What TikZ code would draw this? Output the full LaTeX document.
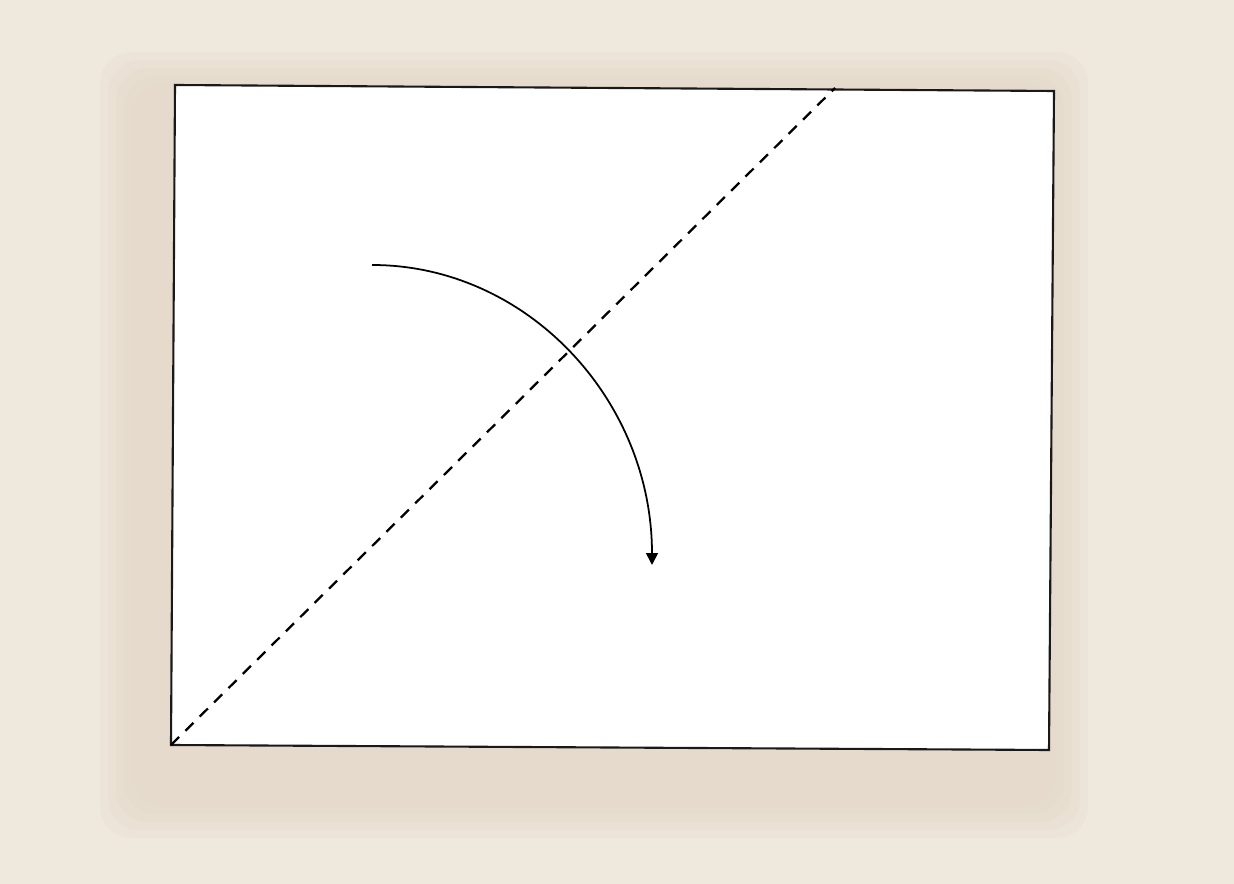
\documentclass[tikz,border=0pt]{standalone}
\usepackage{tikz}
\usetikzlibrary{arrows.meta, calc}
\definecolor{PaperBG}{RGB}{239,232,221}
\definecolor{ShadowBG}{RGB}{226,214,196}
\definecolor{FrameInk}{RGB}{25,25,25}

\begin{document}
\begin{tikzpicture}[
  x=0.02cm, y=-0.02cm,
  frame/.style={draw=FrameInk, line width=1.2pt, fill=white, line join=miter},
  diag/.style={draw=black, line width=1.3pt, dash pattern=on 6.5pt off 5pt},
  turn/.style={draw=black, line width=1pt, -{Triangle[length=2.4mm, width=2.4mm]}},
  shade/.style={fill=ShadowBG, opacity=0.2, rounded corners=18pt}
]
% paper and fixed bounds
\fill[PaperBG] (0,0) rectangle (1234,884);
\useasboundingbox (0,0) rectangle (1234,884);
% soft shadow round the sheet
\foreach \d in {0,8,16,24,32}
  \fill[shade] (100+\d,52+\d) rectangle (1088-\d,838-\d);
% sheet corners
\coordinate (tl) at (175,85);
\coordinate (tr) at (1054,91);
\coordinate (br) at (1049,750);
\coordinate (bl) at (171,745);
\draw[frame] (tl) -- (tr) -- (br) -- (bl) -- cycle;
% diagonal
\coordinate (top) at (835,88);
\draw[diag] (bl) -- (top);
% rotation arrow
\coordinate (start) at (372,265);
\draw[turn] (start) arc[start angle=270, end angle=360, x radius=280, y radius=300];
\end{tikzpicture}
\end{document}
